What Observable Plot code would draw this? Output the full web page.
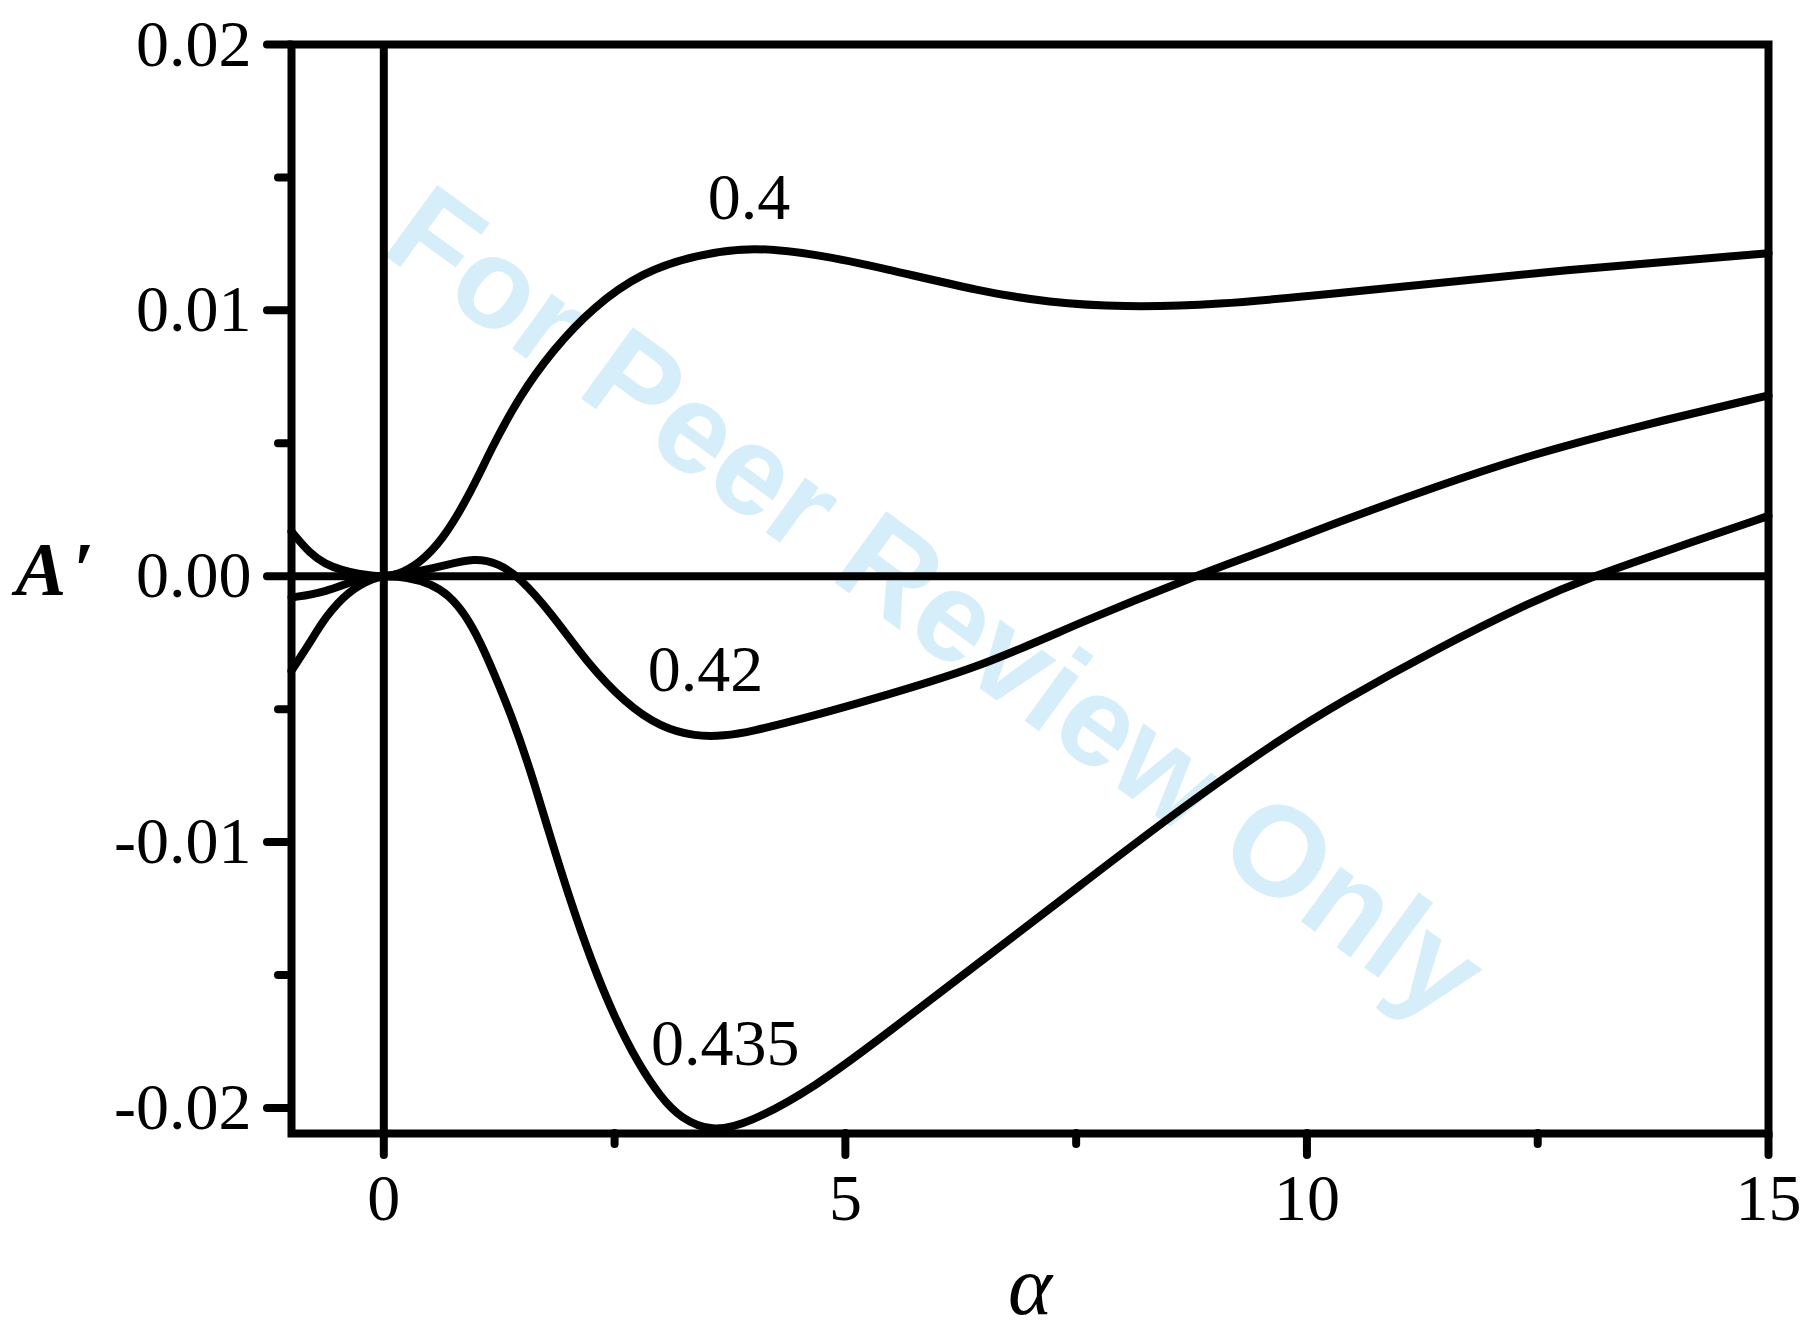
<!DOCTYPE html>
<html>
<head>
<meta charset="utf-8">
<script src="https://cdn.jsdelivr.net/npm/d3@7"></script>
<script src="https://cdn.jsdelivr.net/npm/@observablehq/plot@0.6"></script>
<style>
  html, body { margin: 0; padding: 0; background: #fff; }
</style>
</head>
<body>
<div id="chart"></div>
<script>
// ---- data ----
const seriesNames = ["0.4", "0.42", "0.435"];

const x04 = [-1, -0.8, -0.637, -0.45, -0.275, -0.1, 0, 0.15, 0.377, 0.63, 0.914, 1.17, 1.46, 1.823, 2.257, 2.8, 3.4, 4.0, 4.7, 5.395, 6.48, 7.2, 8.0, 9.01, 10.28, 12.45, 15];
const y04 = [0.00168, 0.00085, 0.00046, 0.00022, 0.00008, 0.00001, 0, 0.00005, 0.00046, 0.00133, 0.00296, 0.00484, 0.00672, 0.00848, 0.0101, 0.01145, 0.0121, 0.0124, 0.0121, 0.0116, 0.0107, 0.0103, 0.01012, 0.0102, 0.01062, 0.01142, 0.01215];

const x042 = [-1, -0.637, -0.28, -0.1, 0, 0.3, 0.63, 0.99, 1.24, 1.46, 1.823, 2.185, 2.62, 3.0, 3.37, 3.7, 3.947, 4.67, 5.395, 6.48, 7.565, 8.78, 9.556, 10.28, 11.365, 12.45, 13.535, 15];
const y042 = [-0.0008, -0.00061, -0.0001, -0.00002, 0, 0.00012, 0.00038, 0.0007, 0.00048, 0, -0.00142, -0.00318, -0.0048, -0.00568, -0.00603, -0.006, -0.00587, -0.00524, -0.00452, -0.0034, -0.0017, 0, 0.00098, 0.00196, 0.00334, 0.00459, 0.0056, 0.0068];

const x0435 = [-1, -0.8, -0.637, -0.385, -0.1, 0, 0.25, 0.52, 0.7, 0.88, 1.05, 1.2, 1.378, 1.58, 1.777, 2.0, 2.25, 2.5, 2.75, 3.0, 3.22, 3.549, 3.947, 4.67, 5.395, 6.48, 7.565, 8.65, 9.736, 10.39, 11.365, 12.45, 13.1, 13.9, 15];
const y0435 = [-0.00355, -0.0025, -0.00155, -0.00055, -0.00005, 0, -0.00003, -0.0003, -0.0007, -0.00142, -0.0025, -0.0037, -0.0052, -0.0072, -0.0095, -0.012, -0.0145, -0.0166, -0.0183, -0.0196, -0.0204, -0.0209, -0.0206, -0.01922, -0.01734, -0.01445, -0.01157, -0.00869, -0.00606, -0.00468, -0.0028, -0.00092, 0, 0.00096, 0.00227];

const curveLabels = ["0.4", "0.42", "0.435"];
const curveLabelX = [3.956, 3.484, 3.70];
const curveLabelY = [0.01344, -0.0043, -0.0184];

const xMajor = [0, 5, 10, 15];
const xMinor = [2.5, 7.5, 12.5];
const yMajor = [-0.02, -0.01, 0, 0.01, 0.02];
const yMinor = [-0.015, -0.005, 0.005, 0.015];

const xLabel = "α";
const yLabel = "A\u200A′";
const watermark = "For Peer Review Only";

// ---- build table ----
const rows = [];
[[x04, y04], [x042, y042], [x0435, y0435]].forEach(([xs, ys], i) => {
  xs.forEach((x, j) => rows.push({series: seriesNames[i], x, y: ys[j]}));
});
const labelRows = curveLabels.map((t, i) => ({t, x: curveLabelX[i], y: curveLabelY[i]}));

const serif = "'Liberation Serif', 'Times New Roman', serif";
const SW = 8;

const chart = Plot.plot({
  width: 1804,
  height: 1331,
  marginLeft: 291,
  marginRight: 36,
  marginTop: 44,
  marginBottom: 198,
  style: {fontFamily: serif, fontSize: "66px", background: "#fff", color: "#000"},
  x: {domain: [-1, 15]},
  y: {domain: [-0.02096, 0.02]},
  marks: [
    Plot.text([watermark], {
      text: d => d, frameAnchor: "middle", dx: -95, dy: 16, rotate: 36,
      fontSize: 128, fontWeight: "bold", fontFamily: "'Liberation Sans', Arial, sans-serif",
      fill: "#d5eefa"
    }),
    Plot.ruleX([0], {strokeWidth: SW}),
    Plot.ruleY([0], {strokeWidth: SW}),
    Plot.line(rows, {x: "x", y: "y", z: "series", stroke: "#000", strokeWidth: SW, curve: "basis"}),
    Plot.frame({strokeWidth: SW}),
    Plot.axisY(yMajor, {tickSize: 24, tickPadding: 16, tickFormat: d => d.toFixed(2), fontSize: 66, strokeWidth: SW, strokeLinecap: "round", label: null}),
    Plot.axisY(yMinor, {tickSize: 13, tickFormat: () => "", strokeWidth: SW, strokeLinecap: "round", label: null}),
    Plot.axisX(xMajor, {tickSize: 22, tickPadding: 18, tickFormat: d => String(d), fontSize: 66, strokeWidth: SW, strokeLinecap: "round", label: null}),
    Plot.axisX(xMinor, {tickSize: 11, tickFormat: () => "", strokeWidth: SW, strokeLinecap: "round", label: null}),
    Plot.text(labelRows, {x: "x", y: "y", text: "t", lineAnchor: "bottom", fontSize: 66}),
    Plot.text([{t: yLabel, y: 0}], {y: "y", text: "t", frameAnchor: "left", textAnchor: "start", dx: -276, dy: -6, fontSize: 76, fontWeight: "bold", fontStyle: "italic"}),
    Plot.text([xLabel], {text: d => d, frameAnchor: "bottom", lineAnchor: "bottom", dy: 180, fontSize: 84, fontStyle: "italic"})
  ]
});
document.getElementById("chart").appendChild(chart);
</script>
</body>
</html>
